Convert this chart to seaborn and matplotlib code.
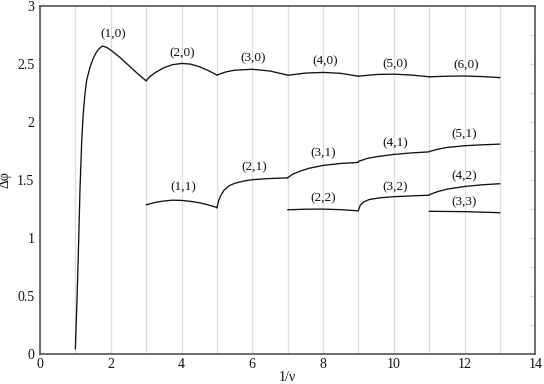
import matplotlib
matplotlib.use("Agg")
import matplotlib.pyplot as plt
from matplotlib import font_manager
from matplotlib.ticker import MultipleLocator
import seaborn as sns
import pandas as pd

# curvas: x = 1/nu, y = delta phi
seg_10_x = [1.0, 1.055, 1.094, 1.13, 1.18, 1.22, 1.27, 1.32, 1.41, 1.5, 1.58, 1.66, 1.76, 1.88, 2.0, 2.25, 2.5, 2.75, 3.0]
seg_10_y = [0.04, 0.55, 0.98, 1.41, 1.84, 2.06, 2.24, 2.36, 2.47, 2.545, 2.595, 2.63, 2.655, 2.645, 2.62, 2.56, 2.49, 2.42, 2.355]
seg_20_x = [3.0, 3.1, 3.25, 3.5, 3.75, 4.0, 4.25, 4.5, 4.75, 5.0]
seg_20_y = [2.355, 2.39, 2.425, 2.468, 2.495, 2.505, 2.50, 2.478, 2.445, 2.405]
seg_30_x = [5.0, 5.25, 5.5, 6.0, 6.5, 7.0]
seg_30_y = [2.405, 2.432, 2.447, 2.455, 2.44, 2.405]
seg_40_x = [7.0, 7.5, 8.0, 8.5, 9.0]
seg_40_y = [2.403, 2.422, 2.428, 2.42, 2.395]
seg_50_x = [9.0, 9.5, 10.0, 10.5, 11.0]
seg_50_y = [2.395, 2.41, 2.413, 2.405, 2.39]
seg_60_x = [11.0, 11.5, 12.0, 12.5, 13.0]
seg_60_y = [2.39, 2.395, 2.397, 2.392, 2.383]

seg_11_x = [3.0, 3.25, 3.5, 3.75, 4.0, 4.25, 4.5, 4.75, 5.0]
seg_11_y = [1.285, 1.305, 1.318, 1.325, 1.323, 1.315, 1.303, 1.285, 1.262]
seg_21_x = [5.0, 5.05, 5.1, 5.2, 5.35, 5.5, 5.75, 6.0, 6.5, 7.0]
seg_21_y = [1.257, 1.32, 1.36, 1.41, 1.45, 1.47, 1.49, 1.502, 1.512, 1.517]
seg_31_x = [7.0, 7.15, 7.35, 7.6, 8.0, 8.5, 9.0]
seg_31_y = [1.519, 1.55, 1.575, 1.60, 1.625, 1.642, 1.651]
seg_41_x = [9.0, 9.25, 9.5, 10.0, 10.5, 11.0]
seg_41_y = [1.66, 1.685, 1.70, 1.72, 1.733, 1.742]
seg_51_x = [11.0, 11.25, 11.5, 12.0, 12.5, 13.0]
seg_51_y = [1.745, 1.765, 1.78, 1.795, 1.803, 1.809]

seg_22_x = [7.0, 7.5, 8.0, 8.5, 9.0]
seg_22_y = [1.242, 1.247, 1.248, 1.243, 1.233]
seg_32_x = [9.0, 9.05, 9.15, 9.3, 9.6, 10.0, 10.5, 11.0]
seg_32_y = [1.235, 1.28, 1.31, 1.33, 1.345, 1.355, 1.362, 1.368]
seg_42_x = [11.0, 11.25, 11.5, 12.0, 12.5, 13.0]
seg_42_y = [1.372, 1.40, 1.42, 1.443, 1.458, 1.467]
seg_33_x = [11.0, 12.0, 13.0]
seg_33_y = [1.229, 1.226, 1.217]

segmentos = {
    "(1,0)": (seg_10_x, seg_10_y), "(2,0)": (seg_20_x, seg_20_y),
    "(3,0)": (seg_30_x, seg_30_y), "(4,0)": (seg_40_x, seg_40_y),
    "(5,0)": (seg_50_x, seg_50_y), "(6,0)": (seg_60_x, seg_60_y),
    "(1,1)": (seg_11_x, seg_11_y), "(2,1)": (seg_21_x, seg_21_y),
    "(3,1)": (seg_31_x, seg_31_y), "(4,1)": (seg_41_x, seg_41_y),
    "(5,1)": (seg_51_x, seg_51_y), "(2,2)": (seg_22_x, seg_22_y),
    "(3,2)": (seg_32_x, seg_32_y), "(4,2)": (seg_42_x, seg_42_y),
    "(3,3)": (seg_33_x, seg_33_y),
}

# posiciones de las etiquetas (en coordenadas de datos)
etiquetas = ["(1,0)", "(2,0)", "(3,0)", "(4,0)", "(5,0)", "(6,0)",
             "(1,1)", "(2,1)", "(3,1)", "(4,1)", "(5,1)",
             "(2,2)", "(3,2)", "(4,2)", "(3,3)"]
etiqueta_x = [2.07, 4.03, 6.02, 8.06, 10.04, 12.05,
              4.05, 6.05, 8.0, 10.04, 12.0,
              8.0, 10.04, 12.0, 12.0]
etiqueta_y = [2.757, 2.59, 2.55, 2.525, 2.50, 2.49,
              1.436, 1.608, 1.734, 1.815, 1.893,
              1.34, 1.432, 1.527, 1.303]

filas = []
for nombre, (xs, ys) in segmentos.items():
    for xv, yv in zip(xs, ys):
        filas.append({"x": xv, "y": yv, "seg": nombre})
df = pd.DataFrame(filas)

# buscar una fuente tipo Times que exista
familias = []
for nombre in ["Liberation Serif", "Nimbus Roman", "Times New Roman", "STIXGeneral"]:
    try:
        font_manager.findfont(nombre, fallback_to_default=False)
        familias.append(nombre)
    except Exception:
        pass
familias.append("DejaVu Serif")

sns.set_style("white")
plt.rcParams["font.family"] = familias

fig = plt.figure(figsize=(5.44, 3.84), dpi=100)
ax = fig.add_axes([0.0735, 0.079, 0.9105, 0.905])

sns.lineplot(data=df, x="x", y="y", units="seg", estimator=None, sort=False,
             color="#111111", linewidth=0.95, ax=ax, legend=False)

for t, tx, ty in zip(etiquetas, etiqueta_x, etiqueta_y):
    ax.text(tx, ty, t, ha="center", va="center", fontsize=9.5, color="#111111")

ax.set_xlim(0, 14)
ax.set_ylim(0, 3)
ax.xaxis.set_major_locator(MultipleLocator(2))
ax.xaxis.set_minor_locator(MultipleLocator(1))
ax.yaxis.set_minor_locator(MultipleLocator(0.25))
ax.set_yticks([0, 0.5, 1, 1.5, 2, 2.5, 3])
ax.set_yticklabels(["0", "0.5", "1", "1.5", "2", "2.5", "3"])

ax.grid(True, axis="x", which="both", color="#dddddd", linewidth=0.9)
ax.set_axisbelow(True)
ax.tick_params(axis="x", which="both", length=0, pad=3, labelsize=10, colors="#111111")
ax.tick_params(axis="y", which="major", direction="in", length=7, width=0.9,
               color="#dddddd", labelcolor="#111111", labelsize=10, pad=4)
ax.tick_params(axis="y", which="minor", direction="in", length=3.5, width=0.9, color="#dddddd")

sec = ax.secondary_yaxis("right")
sec.yaxis.set_major_locator(MultipleLocator(0.25))
sec.tick_params(direction="in", length=4, width=0.9, color="#dddddd", labelright=False)
sec.spines["right"].set_visible(False)

for lado in ["left", "bottom", "top", "right"]:
    ax.spines[lado].set_color("#555555")
    ax.spines[lado].set_linewidth(1.2)

ax.set_xlabel("1/ν", fontsize=10, labelpad=0, color="#111111")
ax.set_ylabel("Δφ", fontsize=10, labelpad=4, color="#111111")

fig.savefig("out.png", dpi=100)
